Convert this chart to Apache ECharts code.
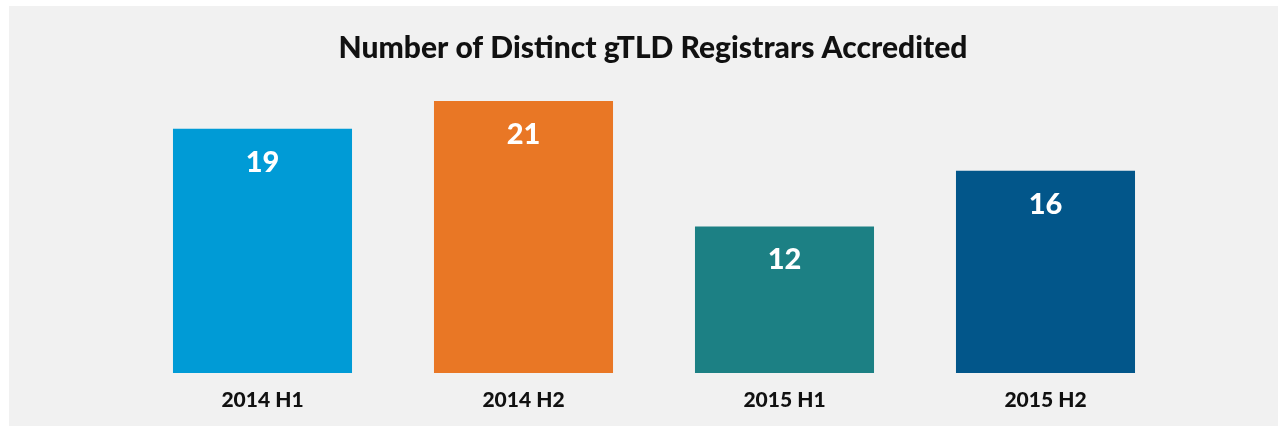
<!DOCTYPE html>
<html>
<head>
<meta charset="utf-8">
<script src="https://cdn.jsdelivr.net/npm/echarts@6/dist/echarts.min.js"></script>
<style>
  html, body { margin: 0; padding: 0; background: #fff; }
  #chart { width: 1278px; height: 426px; }
</style>
</head>
<body>
<div id="chart"></div>
<script>
const titleText = 'Number of Distinct gTLD Registrars Accredited'
const categories = ['2014 H1', '2014 H2', '2015 H1', '2015 H2']
const values = [19, 21, 12, 16]
const barColors = ['#009bd6', '#e97725', '#1c8084', '#02568a']

const chart = echarts.init(document.getElementById('chart'))

const option = {
  backgroundColor: '#ffffff',
  animation: false,
  graphic: [
    {
      type: 'rect',
      z: -10,
      shape: { x: 9, y: 6, width: 1300, height: 440 },
      style: { fill: '#f1f1f1' }
    }
  ],
  title: {
    text: titleText,
    left: 648,
    top: 28,
    textAlign: 'center',
    textStyle: {
      fontFamily: 'Lato',
      fontSize: 30,
      fontWeight: 900,
      color: '#111'
    }
  },
  grid: {
    left: 132,
    right: 102,
    top: 87,
    bottom: 53
  },
  xAxis: {
    type: 'category',
    data: categories,
    axisLine: { show: false },
    axisTick: { show: false },
    axisLabel: {
      margin: 17,
      fontFamily: 'Lato',
      fontSize: 21,
      fontWeight: 900,
      color: '#111'
    }
  },
  yAxis: {
    type: 'value',
    min: 1.5,
    max: 22,
    show: false,
    splitLine: { show: false }
  },
  series: [
    {
      type: 'bar',
      barCategoryGap: '31.4%',
      data: values.map((v, i) => ({
        value: v,
        itemStyle: { color: barColors[i] }
      })),
      label: {
        show: true,
        position: 'insideTop',
        distance: 19,
        fontFamily: 'Lato',
        fontSize: 29,
        fontWeight: 900,
        color: '#fff'
      }
    }
  ]
}

chart.setOption(option)
</script>
</body>
</html>
